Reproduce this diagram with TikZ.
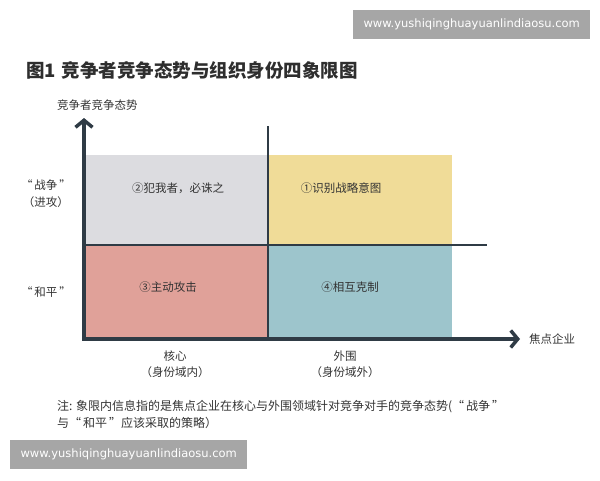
\documentclass[tikz,border=0pt]{standalone}
\usepackage{fontspec}
\setmainfont{Noto Sans CJK SC}
\newfontfamily\wmfont{DejaVu Sans}
\usetikzlibrary{arrows.meta}
\definecolor{axis}{HTML}{2F3B45}
\definecolor{txt}{HTML}{333333}
\definecolor{qgray}{HTML}{DCDCE0}
\definecolor{qyellow}{HTML}{F0DC98}
\definecolor{qpink}{HTML}{E0A199}
\definecolor{qteal}{HTML}{9DC5CC}
\definecolor{wm}{HTML}{A6A6A6}
\tikzset{
  lbl/.style={text=txt, font=\fontsize{11.5}{14}\selectfont, inner sep=0pt, align=center},
  notelbl/.style={text=txt, font=\fontsize{12}{14}\selectfont, inner sep=0pt, anchor=west, align=left},
  quad/.style={draw=none, inner sep=0pt, anchor=north west},
  wmbox/.style={fill=wm, text=white, font=\wmfont\fontsize{11.5}{13}\selectfont, inner sep=0pt, anchor=north west},
  axisline/.style={draw=axis, line width=3.5pt, -{Straight Barb[length=7pt,width=17pt,line width=3.5pt]}},
  divider/.style={draw=axis, line width=1.8pt}
}
\begin{document}
\begin{tikzpicture}[x=1pt,y=-1pt]
\useasboundingbox (0,0) rectangle (600,480);
% watermarks
\node[wmbox, minimum width=237pt, minimum height=29pt] (wmtop) at (353,10) {www.yushiqinghuayuanlindiaosu.com};
\node[wmbox, minimum width=237pt, minimum height=29pt] (wmbot) at (10,440) {www.yushiqinghuayuanlindiaosu.com};
% title
\node[anchor=west, text=txt!90!black, font=\bfseries\fontsize{18.5}{21}\selectfont, inner sep=0pt] (title) at (26,70) {图1\hspace{6pt}竞争者竞争态势与组织身份四象限图};
% quadrants
\node[quad, fill=qgray, minimum width=182pt, minimum height=90pt] (q2) at (86,155) {};
\node[quad, fill=qyellow, minimum width=184pt, minimum height=90pt] (q1) at (268,155) {};
\node[quad, fill=qpink, minimum width=182pt, minimum height=93pt] (q3) at (86,245) {};
\node[quad, fill=qteal, minimum width=184pt, minimum height=93pt] (q4) at (268,245) {};
\node[lbl] (t2) at (178,188) {②犯我者，必诛之};
\node[lbl] (t1) at (341,188) {①识别战略意图};
\node[lbl] (t3) at (168,287) {③主动攻击};
\node[lbl] (t4) at (350,287) {④相互克制};
% dividers
\coordinate (vtop) at (268,126);
\coordinate (vbot) at (268,339);
\coordinate (hl) at (84,245);
\coordinate (hr) at (487,245);
\draw[divider] (vtop) -- (vbot);
\draw[divider] (hl) -- (hr);
% axes
\coordinate (o) at (84,339);
\coordinate (ytip) at (84,118);
\coordinate (xtip) at (520,339);
\draw[axisline] ([yshift=-1.75pt]o) -- (ytip);
\draw[axisline] ([xshift=-1.75pt]o) -- (xtip);
% axis labels
\node[lbl, anchor=west] (ylab) at (57,105) {竞争者竞争态势};
\node[lbl, anchor=west] (xlab) at (529,339) {焦点企业};
\node[lbl] (war) at (46,185) {“\,战争\,”};
\node[lbl] (attack) at (46,202) {（进攻）};
\node[lbl] (peace) at (46,292) {“\,和平\,”};
\node[lbl] (core) at (175,356) {核心};
\node[lbl] (corein) at (175,372) {（身份域内）};
\node[lbl] (peri) at (345,356) {外围};
\node[lbl] (periout) at (345,372) {（身份域外）};
% note
\node[notelbl] (note1) at (57,407) {注: 象限内信息指的是焦点企业在核心与外围领域针对竞争对手的竞争态势(“\,战争\,”};
\node[notelbl] (note2) at (57,423) {与“\,和平\,”应该采取的策略）};
\end{tikzpicture}
\end{document}
